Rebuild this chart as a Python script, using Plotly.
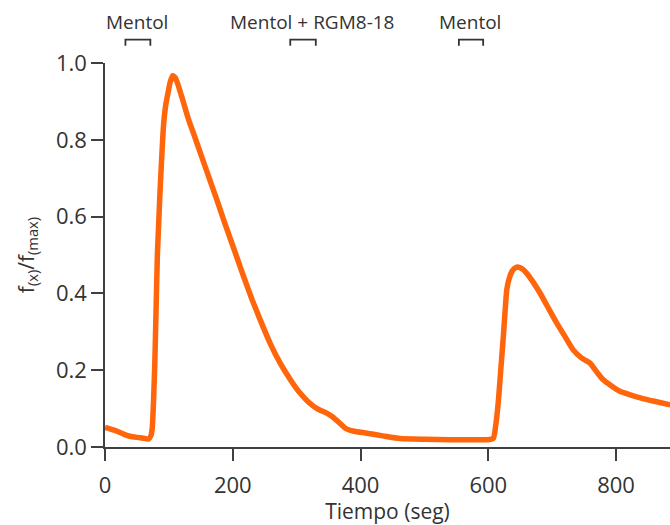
import plotly.graph_objects as go

# Time (s) and normalized fluorescence f(x)/f(max)
tiempo = [0, 10, 19, 30, 39, 50, 60, 68, 72, 74, 76, 78, 80, 82, 84, 86, 89, 91.5, 95, 99,
          102, 106, 110, 115, 120, 125, 131, 140, 149, 160, 175, 186, 196, 206, 217, 230,
          243, 258, 274, 290, 305, 318, 332, 345, 355, 365, 378, 390, 410, 435, 462, 500,
          540, 570, 587, 600, 608, 612, 616, 620, 624, 629, 633, 637, 641, 646, 652, 660,
          670, 681, 694, 707, 720, 733, 746, 759, 770, 780, 793, 806, 820, 838, 860, 885]
fluor = [0.051, 0.046, 0.041, 0.033, 0.028, 0.025, 0.023, 0.021, 0.030, 0.050, 0.120,
         0.220, 0.360, 0.500, 0.580, 0.660, 0.760, 0.835, 0.890, 0.925, 0.950, 0.967,
         0.962, 0.940, 0.913, 0.885, 0.852, 0.810, 0.767, 0.715, 0.644, 0.590, 0.543,
         0.496, 0.444, 0.385, 0.331, 0.272, 0.219, 0.176, 0.141, 0.118, 0.100, 0.090,
         0.080, 0.066, 0.047, 0.041, 0.036, 0.029, 0.022, 0.020, 0.019, 0.019, 0.019,
         0.019, 0.023, 0.060, 0.123, 0.210, 0.297, 0.410, 0.440, 0.457, 0.465, 0.469,
         0.465, 0.453, 0.430, 0.401, 0.362, 0.323, 0.288, 0.253, 0.232, 0.219, 0.195,
         0.175, 0.159, 0.145, 0.137, 0.128, 0.119, 0.110]

# Stimulus application periods (s) and labels
estimulo_inicio = [32, 290, 554]
estimulo_fin = [71, 330, 592]
estimulo_texto = ["Mentol", "Mentol + RGM8-18", "Mentol"]
texto_x = [50, 324, 571]

x_ticks = [0, 200, 400, 600, 800]
y_ticks = [0.0, 0.2, 0.4, 0.6, 0.8, 1.0]

FONT = "Open Sans"
AX = "#404040"
TXT = "#333333"

fig = go.Figure()
fig.add_trace(go.Scatter(x=tiempo, y=fluor, mode="lines",
                         line=dict(color="#ff650a", width=5.5, shape="spline", smoothing=0.5),
                         showlegend=False, hoverinfo="x+y"))

shapes = []
for a, b in zip(estimulo_inicio, estimulo_fin):
    shapes.append(dict(type="path", xref="x", yref="paper",
                       path=f"M {a},1.045 L {a},1.061 L {b},1.061 L {b},1.045",
                       line=dict(color=TXT, width=1.8)))

annotations = []
for xt, t in zip(texto_x, estimulo_texto):
    annotations.append(dict(x=xt, y=1.106, xref="x", yref="paper", text=t,
                            showarrow=False, xanchor="center", yanchor="middle",
                            font=dict(family=FONT, size=19, color=TXT)))

fig.update_layout(
    width=670, height=525,
    margin=dict(l=105, r=0, t=63, b=78),
    plot_bgcolor="white", paper_bgcolor="white",
    shapes=shapes, annotations=annotations,
    font=dict(family=FONT, color=TXT),
    xaxis=dict(range=[0, 884.5], tickvals=x_ticks, ticks="outside", ticklen=12,
               tickwidth=1.5, tickcolor=AX, showline=True, linecolor=AX, linewidth=1.5,
               showgrid=False, zeroline=False, automargin=False, ticklabelstandoff=6,
               tickfont=dict(family=FONT, size=22, color=TXT),
               title=dict(text="Tiempo (seg)", font=dict(family=FONT, size=21, color=TXT),
                          standoff=2)),
    yaxis=dict(range=[0, 1.0], tickvals=y_ticks, tickformat=".1f", ticks="outside",
               ticklen=12, tickwidth=1.5, tickcolor=AX, showline=True, linecolor=AX,
               linewidth=1.5, showgrid=False, zeroline=False, automargin=False,
               tickfont=dict(family=FONT, size=22, color=TXT),
               title=dict(text="f<sub>(x)</sub>/f<sub>(max)</sub>",
                          font=dict(family=FONT, size=21, color=TXT), standoff=16)),
)

fig.write_html("out.html", config={"displayModeBar": False},
               post_script="document.body.style.margin='0';document.body.style.overflow='hidden';")
